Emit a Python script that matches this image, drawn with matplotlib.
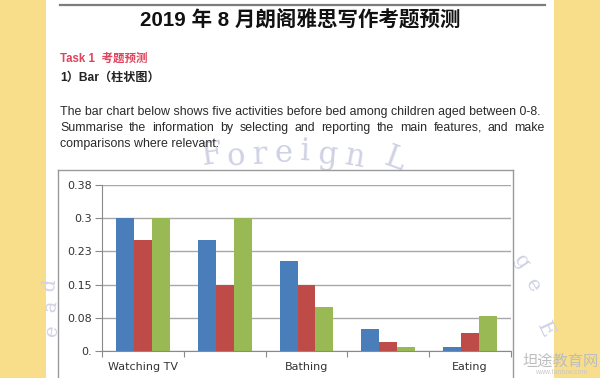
import numpy as np
import matplotlib
matplotlib.use('Agg')
import matplotlib.pyplot as plt
from matplotlib.patches import Rectangle
from matplotlib.lines import Line2D

plt.rcParams['font.family'] = ['Liberation Sans', 'Noto Sans CJK SC', 'DejaVu Sans']

# chart data
activities = ['Watching TV', 'Reading', 'Bathing', 'Playing', 'Eating']
tick_labels = ['Watching TV', '', 'Bathing', '', 'Eating']
blue_vals = [0.305, 0.255, 0.205, 0.05, 0.01]
red_vals = [0.255, 0.152, 0.152, 0.021, 0.041]
green_vals = [0.305, 0.305, 0.10, 0.01, 0.081]
y_ticks = [0, 0.076, 0.152, 0.228, 0.304, 0.38]
y_tick_labels = ['0.', '0.08', '0.15', '0.23', '0.3', '0.38']

title = '2019 年 8 月朗阁雅思写作考题预测'
task = 'Task 1  考题预测'
subtask = '1）Bar（柱状图）'
para = ['The bar chart below shows five activities before bed among children aged between 0-8.',
        'Summarise the information by selecting and reporting the main features, and make',
        'comparisons where relevant.']

W, H = 600, 378
def fx(x):
    return x / W
def fy(y):
    return 1 - y / H

fig = plt.figure(figsize=(6, 3.78), dpi=100)
fig.patch.set_facecolor('#f8de8b')

# white page
fig.add_artist(Rectangle((fx(46), 0), fx(554 - 46), 1, transform=fig.transFigure,
                         facecolor='white', edgecolor='none', zorder=-5))
fig.add_artist(Line2D([fx(60), fx(545)], [fy(5), fy(5)], color='#7d7d7d', lw=1.6))

fig.text(0.5, fy(19), title, ha='center', va='center', fontsize=14.8, fontweight='bold', color='#111111')
fig.text(fx(60), fy(59), task, ha='left', va='center', fontsize=8.3, fontweight='bold', color='#e0445c')
fig.text(fx(60), fy(78), subtask, ha='left', va='center', fontsize=8.7, fontweight='bold', color='#222222')

# paragraph, second line justified
fs = 8.9
renderer = fig.canvas.get_renderer()
fig.text(fx(60), fy(112), para[0], ha='left', va='center', fontsize=fs, color='#2a2a2a')
words = para[1].split()
widths = []
for w in words:
    t = fig.text(0, 0, w, fontsize=fs)
    widths.append(t.get_window_extent(renderer).width)
    t.remove()
gap = (545 - 60 - sum(widths)) / (len(words) - 1)
xpos = 60
for w, wd in zip(words, widths):
    fig.text(fx(xpos), fy(128), w, ha='left', va='center', fontsize=fs, color='#2a2a2a')
    xpos += wd + gap
fig.text(fx(60), fy(144), para[2], ha='left', va='center', fontsize=fs, color='#2a2a2a')

# watermark
wm_col = '#cfd1e4'
for ch, x, y, r in zip('ForeignL', [212, 236, 260, 283, 305, 328, 355, 395],
                       [155, 157, 155, 153, 152, 155, 157, 159], [8, 5, 2, 0, -2, -5, -10, -20]):
    fig.text(fx(x), fy(y), ch, ha='center', va='center', fontsize=22, family='DejaVu Serif',
             color=wm_col, rotation=r, zorder=-1)
for ch, x, y, r in zip('ead', [52, 51, 50], [330, 306, 284], [80, 82, 84]):
    fig.text(fx(x), fy(y), ch, ha='center', va='center', fontsize=14, family='DejaVu Serif',
             color=wm_col, rotation=r, zorder=-1)
for ch, x, y, r in zip('geE', [522, 533, 545], [262, 286, 330], [-55, -60, -65]):
    fig.text(fx(x), fy(y), ch, ha='center', va='center', fontsize=15, family='DejaVu Serif',
             color=wm_col, rotation=r, zorder=-1)
fig.text(fx(561), fy(362), '坦途教育网', ha='center', va='center', fontsize=11, color='#bdbdbd')
fig.text(fx(561), fy(373), 'www.tantuw.com', ha='center', va='center', fontsize=5, color='#c8c8c8')

# chart border
bc = '#9a9a9a'
fig.add_artist(Line2D([fx(58), fx(58)], [0, fy(170)], color=bc, lw=1))
fig.add_artist(Line2D([fx(58), fx(513)], [fy(170), fy(170)], color=bc, lw=1))
fig.add_artist(Line2D([fx(513), fx(513)], [0, fy(170)], color=bc, lw=1))

ax = fig.add_axes([fx(102), fy(351), fx(511 - 102), (351 - 185) / H])
ax.set_facecolor('none')
x = np.arange(len(activities))
bw = 0.22
ax.bar(x - bw, blue_vals, bw, color='#4a7ebb')
ax.bar(x, red_vals, bw, color='#be4b48')
ax.bar(x + bw, green_vals, bw, color='#98b954')

ax.set_xlim(-0.5, len(activities) - 0.5)
ax.set_ylim(0, 0.38)
ax.set_yticks(y_ticks)
ax.set_yticklabels(y_tick_labels, family='DejaVu Sans')
ax.yaxis.grid(True, color='#a8a8a8', lw=1)
ax.set_axisbelow(True)
ax.tick_params(axis='y', direction='out', length=5, color='#8a8a8a', labelsize=8,
               labelcolor='#333333', pad=2)

ax.set_xticks(np.arange(-0.5, len(activities), 1))
ax.set_xticklabels([])
ax.set_xticks(x, minor=True)
ax.set_xticklabels(tick_labels, minor=True, family='DejaVu Sans')
ax.tick_params(axis='x', which='major', direction='out', length=4, color='#8a8a8a')
ax.tick_params(axis='x', which='minor', length=0, labelsize=8, labelcolor='#333333', pad=8)

for s in ['top', 'right']:
    ax.spines[s].set_visible(False)
for s in ['left', 'bottom']:
    ax.spines[s].set_color('#8a8a8a')

fig.savefig('out.png', dpi=100, facecolor=fig.get_facecolor())
